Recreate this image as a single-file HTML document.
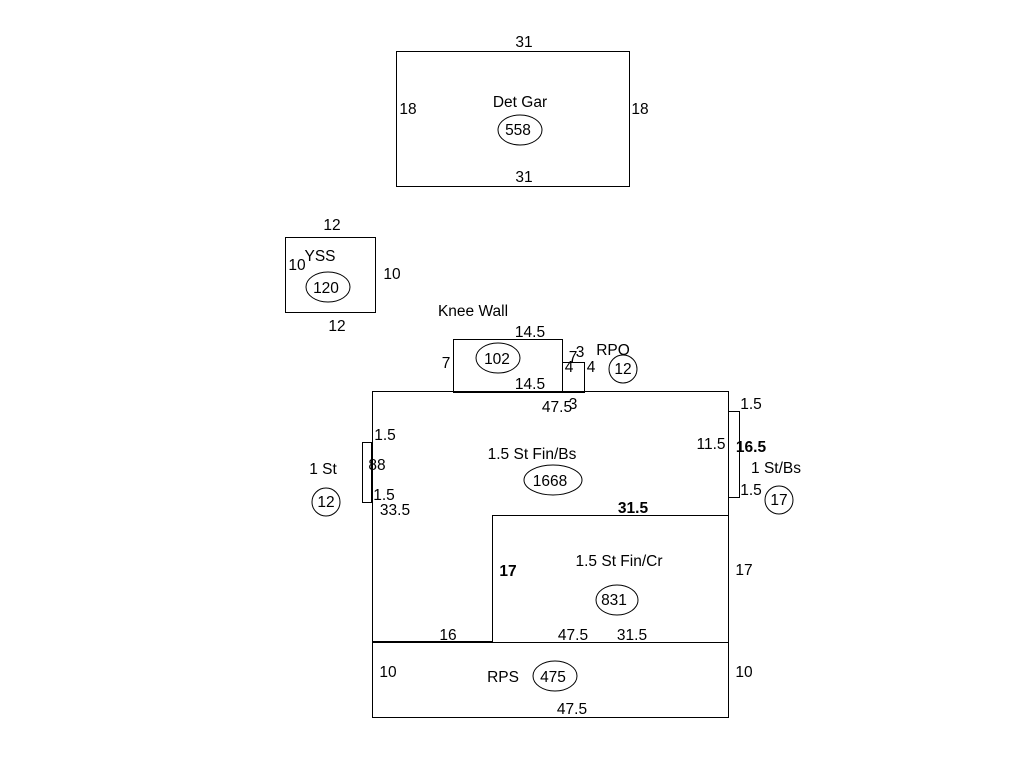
<!DOCTYPE html>
<html><head><style>body{margin:0;background:#fff}svg{display:block}text{font-family:"Liberation Sans",sans-serif;font-size:15.5px;fill:#000;text-anchor:middle}</style></head><body>
<svg width="1024" height="768" viewBox="0 0 1024 768">
<g fill="none" stroke="#000" stroke-width="1">
<rect x="396.5" y="51.5" width="233" height="135"/>
<rect x="285.5" y="237.5" width="90" height="75"/>
<rect x="453.5" y="339.5" width="109" height="53"/>
<rect x="562.5" y="362.5" width="22" height="30"/>
<rect x="372.5" y="391.5" width="356" height="326"/>
<line x1="372" y1="642.5" x2="728" y2="642.5"/>
<line x1="492.5" y1="515" x2="492.5" y2="642"/>
<line x1="492" y1="515.5" x2="728" y2="515.5"/>
<rect x="362.5" y="442.5" width="10" height="60"/>
<rect x="728.5" y="411.5" width="11" height="86"/>
<ellipse cx="520" cy="130" rx="22" ry="15"/>
<ellipse cx="328" cy="287" rx="22" ry="15"/>
<ellipse cx="498" cy="358" rx="22" ry="15"/>
<circle cx="623" cy="369" r="14"/>
<ellipse cx="553" cy="480" rx="29" ry="15"/>
<ellipse cx="617" cy="600" rx="21" ry="15"/>
<ellipse cx="555" cy="676" rx="22" ry="15"/>
<circle cx="326" cy="502" r="14"/>
<circle cx="779" cy="500" r="14"/>
</g>
<line x1="453" y1="392" x2="584" y2="392" stroke="#000" stroke-width="2"/>
<line x1="372" y1="642" x2="492" y2="642" stroke="#000" stroke-width="2"/>
<line x1="372" y1="442" x2="372" y2="502" stroke="#000" stroke-width="2"/>
<text x="524" y="47">31</text>
<text x="524" y="182">31</text>
<text x="408" y="114">18</text>
<text x="640" y="114">18</text>
<text x="520" y="107">Det Gar</text>
<text x="518" y="135">558</text>
<text x="332" y="230">12</text>
<text x="337" y="331">12</text>
<text x="297" y="270">10</text>
<text x="392" y="279">10</text>
<text x="320" y="261">YSS</text>
<text x="326" y="293">120</text>
<text x="473" y="316">Knee Wall</text>
<text x="530" y="337">14.5</text>
<text x="530" y="389">14.5</text>
<text x="446" y="368">7</text>
<text x="497" y="364">102</text>
<text x="573" y="362">7</text>
<text x="580" y="357">3</text>
<text x="569" y="372">4</text>
<text x="591" y="372">4</text>
<text x="613" y="355">RPO</text>
<text x="623" y="374">12</text>
<text x="557" y="412">47.5</text>
<text x="573" y="409">3</text>
<text x="751" y="409">1.5</text>
<text x="711" y="449">11.5</text>
<text x="751" y="452" font-weight="bold">16.5</text>
<text x="776" y="473">1 St/Bs</text>
<text x="751" y="495">1.5</text>
<text x="779" y="505">17</text>
<text x="385" y="440">1.5</text>
<text x="377" y="470">88</text>
<text x="384" y="500">1.5</text>
<text x="395" y="515">33.5</text>
<text x="323" y="474">1 St</text>
<text x="326" y="507">12</text>
<text x="532" y="459">1.5 St Fin/Bs</text>
<text x="550" y="486">1668</text>
<text x="633" y="513" font-weight="bold">31.5</text>
<text x="508" y="576" font-weight="bold">17</text>
<text x="619" y="566">1.5 St Fin/Cr</text>
<text x="614" y="605">831</text>
<text x="744" y="575">17</text>
<text x="448" y="640">16</text>
<text x="573" y="640">47.5</text>
<text x="632" y="640">31.5</text>
<text x="388" y="677">10</text>
<text x="744" y="677">10</text>
<text x="503" y="682">RPS</text>
<text x="553" y="682">475</text>
<text x="572" y="714">47.5</text>
</svg>
</body></html>
